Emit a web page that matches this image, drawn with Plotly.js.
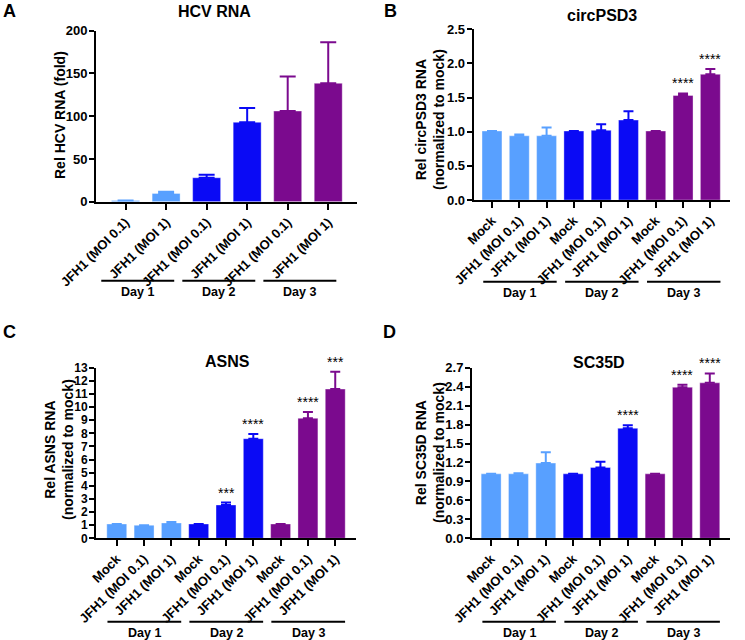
<!DOCTYPE html>
<html>
<head>
<meta charset="utf-8">
<script src="https://cdn.plot.ly/plotly-3.0.1.min.js"></script>
<style>html,body{margin:0;padding:0;background:#fff;}#chart{width:745px;height:640px;}</style>
</head>
<body>
<div id="chart"></div>
<script>
// ---------- data ----------
const labelsA = ["JFH1 (MOI 0.1)", "JFH1 (MOI 1)", "JFH1 (MOI 0.1)", "JFH1 (MOI 1)", "JFH1 (MOI 0.1)", "JFH1 (MOI 1)"];
const labels9 = ["Mock", "JFH1 (MOI 0.1)", "JFH1 (MOI 1)", "Mock", "JFH1 (MOI 0.1)", "JFH1 (MOI 1)", "Mock", "JFH1 (MOI 0.1)", "JFH1 (MOI 1)"];
const dayNames = ["Day 1", "Day 2", "Day 3"];

const hcvMean   = [1.3, 9.7, 28, 92.8, 106, 138.4];
const hcvErrTop = [1.5, 11.7, 31.5, 109.5, 146.5, 186.5];

const psd3Mean   = [1.01, 0.94, 0.94, 1.01, 1.02, 1.17, 1.01, 1.53, 1.84];
const psd3ErrTop = [1.01, 0.96, 1.06, 1.01, 1.11, 1.30, 1.01, 1.56, 1.92];
const psd3Stars  = ["", "", "", "", "", "", "", "****", "****"];

const asnsMean   = [1.09, 0.99, 1.17, 1.09, 2.54, 7.59, 1.09, 9.14, 11.37];
const asnsErrTop = [1.09, 0.99, 1.24, 1.09, 2.72, 7.94, 1.09, 9.62, 12.69];
const asnsStars  = ["", "", "", "", "***", "****", "", "****", "***"];

const sc35Mean   = [1.02, 1.02, 1.19, 1.02, 1.12, 1.74, 1.02, 2.39, 2.46];
const sc35ErrTop = [1.02, 1.03, 1.36, 1.02, 1.21, 1.79, 1.02, 2.43, 2.61];
const sc35Stars  = ["", "", "", "", "", "****", "", "****", "****"];

// ---------- style ----------
const dayColors = ["#58A0FF", "#0A0AF5", "#7B0A8E"];
const FONT = "Liberation Sans, Arial, sans-serif";
const W = 745, H = 640;
const px = v => v / W, py = v => 1 - v / H;

const traces = [];
const annotations = [];
const shapes = [];
const layout = {
  width: W, height: H, margin: {l: 0, r: 0, t: 0, b: 0},
  paper_bgcolor: "#fff", plot_bgcolor: "#fff", showlegend: false,
  bargap: 0, font: {family: FONT, color: "#000"},
};

function addPanel(p) {
  const xa = "xaxis" + (p.n === 1 ? "" : p.n), ya = "yaxis" + (p.n === 1 ? "" : p.n);
  const xr = "x" + (p.n === 1 ? "" : p.n), yr = "y" + (p.n === 1 ? "" : p.n);
  const per = p.mean.length / 3;
  for (let g = 0; g < 3; g++) {
    const idx = [];
    for (let k = 0; k < per; k++) idx.push(g * per + k);
    traces.push({
      type: "bar", xaxis: xr, yaxis: yr,
      x: idx, y: idx.map(i => p.mean[i]), width: p.bw,
      marker: {color: dayColors[g], line: {color: "rgba(255,255,255,0.35)", width: 1}},
      error_y: {type: "data", symmetric: false, array: idx.map(i => p.errTop[i] - p.mean[i]),
                arrayminus: idx.map(() => 0), color: dayColors[g], thickness: 2, width: p.capW},
      hoverinfo: "skip"
    });
    const x0 = idx[0] + p.dayOff[0], x1 = idx[idx.length - 1] + p.dayOff[1];
    shapes.push({type: "line", xref: xr, yref: "paper", x0: x0, x1: x1, y0: py(p.dayY), y1: py(p.dayY),
                 line: {color: "#000", width: 2}});
    annotations.push({xref: xr, yref: "paper", x: (x0 + x1) / 2, y: py(p.dayY + 11), text: dayNames[g],
                      showarrow: false, yanchor: "middle", font: {size: 12.5, weight: 700}});
  }
  if (p.stars) {
    p.stars.forEach((s, i) => {
      if (!s) return;
      annotations.push({xref: xr, yref: yr, x: i, y: p.errTop[i], text: s, showarrow: false,
                        yanchor: "middle", yshift: 10, font: {size: 14}});
    });
  }
  layout[xa] = {
    domain: [px(p.xd[0]), px(p.xd[1])], anchor: yr, range: p.xrange,
    tickvals: p.labels.map((_, i) => i), ticktext: p.labels, tickangle: -45,
    ticks: "outside", ticklen: 6, tickwidth: 2, tickcolor: "#000",
    showline: true, linewidth: 2, linecolor: "#000", showgrid: false, zeroline: false,
    tickfont: {size: 13, weight: 700}, fixedrange: true
  };
  layout[ya] = {
    domain: [py(p.yd[0]), py(p.yd[1])], anchor: xr, range: p.yrange,
    tickmode: "linear", tick0: 0, dtick: p.dtick, tickformat: p.fmt,
    ticks: "outside", ticklen: 5, tickwidth: 2, tickcolor: "#000", ticklabelstandoff: -1,
    showline: true, linewidth: 2, linecolor: "#000", showgrid: false, zeroline: false,
    tickfont: {size: p.ytf, weight: 700}, fixedrange: true
  };
  annotations.push({xref: "paper", yref: "paper", x: px(p.title[1]), y: py(p.title[2]), text: p.title[0],
                    showarrow: false, xanchor: "center", yanchor: "middle", font: {size: 16, weight: 700}});
  annotations.push({xref: "paper", yref: "paper", x: px(p.ytitle[1]), y: py(p.ytitle[2]), text: p.ytitle[0],
                    showarrow: false, textangle: -90, xanchor: "center", yanchor: "middle",
                    font: {size: 14, weight: 700}});
  annotations.push({xref: "paper", yref: "paper", x: px(p.letter[1]), y: py(p.letter[2]), text: p.letter[0],
                    showarrow: false, xanchor: "center", yanchor: "middle", font: {size: 18, weight: 700}});
}

addPanel({n: 1, labels: labelsA, mean: hcvMean, errTop: hcvErrTop, stars: null,
  xd: [96, 357], yd: [201.7, 30.7], xrange: [-0.73, 5.71], yrange: [0, 200], dtick: 50, fmt: "d", ytf: 13,
  bw: 0.69, capW: 8, dayOff: [-0.6, 0.2], dayY: 280.7,
  title: ["HCV RNA", 214, 11], ytitle: ["Rel HCV RNA (fold)", 60, 115], letter: ["A", 9, 11]});

addPanel({n: 2, labels: labels9, mean: psd3Mean, errTop: psd3ErrTop, stars: psd3Stars,
  xd: [473.7, 730], yd: [200, 29.3], xrange: [-0.67, 8.72], yrange: [0, 2.5], dtick: 0.5, fmt: ".1f", ytf: 13,
  bw: 0.73, capW: 5, dayOff: [-0.32, 0.37], dayY: 281.7,
  title: ["circPSD3", 602, 15], ytitle: ["Rel circPSD3 RNA<br>(normalized to mock)", 430, 120], letter: ["B", 390, 11]});

addPanel({n: 3, labels: labels9, mean: asnsMean, errTop: asnsErrTop, stars: asnsStars,
  xd: [96, 356], yd: [538.3, 367.7], xrange: [-0.76, 8.76], yrange: [0, 13], dtick: 1, fmt: "d", ytf: 12,
  bw: 0.73, capW: 5, dayOff: [-0.34, 0.36], dayY: 621.7,
  title: ["ASNS", 227, 361], ytitle: ["Rel ASNS RNA<br>(normalized to mock)", 59, 450], letter: ["C", 9, 332]});

addPanel({n: 4, labels: labels9, mean: sc35Mean, errTop: sc35ErrTop, stars: sc35Stars,
  xd: [472, 730], yd: [538.3, 367.7], xrange: [-0.70, 8.74], yrange: [0, 2.7], dtick: 0.3, fmt: ".1f", ytf: 13,
  bw: 0.73, capW: 5, dayOff: [-0.32, 0.37], dayY: 621.7,
  title: ["SC35D", 599, 362], ytitle: ["Rel SC35D RNA<br>(normalized to mock)", 430, 453], letter: ["D", 389, 332]});

layout.annotations = annotations;
layout.shapes = shapes;
Plotly.newPlot("chart", traces, layout, {staticPlot: true, displayModeBar: false});
</script>
</body>
</html>
